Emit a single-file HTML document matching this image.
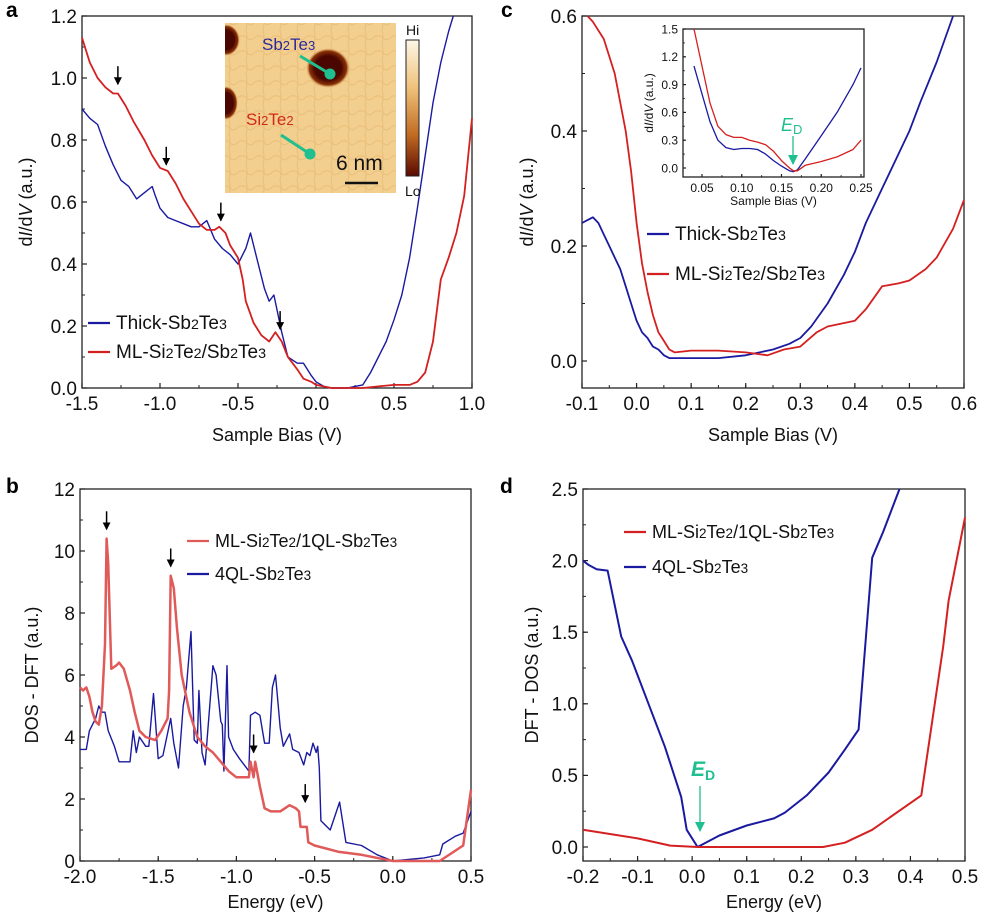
<!DOCTYPE html>
<html><head><meta charset="utf-8">
<style>
html,body{margin:0;padding:0;background:#fff;}
svg{display:block;font-family:"Liberation Sans",sans-serif;}
</style></head>
<body>
<svg id="fig" width="993" height="916" viewBox="0 0 993 916" xmlns="http://www.w3.org/2000/svg">
<defs>
<linearGradient id="cbar" x1="0" y1="0" x2="0" y2="1">
<stop offset="0" stop-color="#fdf6e6"/><stop offset="0.35" stop-color="#f0c27a"/><stop offset="0.7" stop-color="#c06a22"/><stop offset="1" stop-color="#5a0a00"/>
</linearGradient>
<radialGradient id="blob"><stop offset="0.6" stop-color="#4a0600"/><stop offset="0.85" stop-color="#8a3208"/><stop offset="1" stop-color="#e9b96a" stop-opacity="0"/></radialGradient>
<pattern id="grain" width="17" height="15" patternUnits="userSpaceOnUse">
<rect width="17" height="15" fill="#f5d498"/><path d="M0 7 Q5 4 9 8 T17 7 M8 0 Q10 7 8 15" stroke="#e0ae66" stroke-width="1.2" fill="none" opacity="0.55"/>
</pattern>
<clipPath id="imgclip"><rect x="225" y="23" width="171" height="170"/></clipPath>
<marker id="ah" markerWidth="8" markerHeight="8" refX="4" refY="7" orient="0" markerUnits="userSpaceOnUse"><path d="M0,0 L8,0 L4,8 z" fill="#000"/></marker>
<marker id="ahg" markerWidth="10" markerHeight="10" refX="5" refY="9" orient="0" markerUnits="userSpaceOnUse"><path d="M0,0 L10,0 L5,10 z" fill="#1fbf8f"/></marker>
</defs>
<g id="layer"></g>

<!-- inset image panel a -->
<g>
<g clip-path="url(#imgclip)">
<rect x="225" y="23" width="171" height="170" fill="url(#grain)"/>
<rect x="225" y="23" width="171" height="170" fill="#f0c47c" opacity="0.3"/>
<ellipse cx="328" cy="68" rx="22" ry="20" fill="url(#blob)"/>
<ellipse cx="226" cy="40" rx="14" ry="16" fill="url(#blob)"/>
<ellipse cx="226" cy="103" rx="12" ry="17" fill="url(#blob)"/>
</g>
<line x1="300" y1="56" x2="330" y2="74" stroke="#1fbf8f" stroke-width="3"/>
<circle cx="330" cy="74" r="5.5" fill="#1fbf8f"/>
<line x1="281" y1="135" x2="310" y2="154" stroke="#1fbf8f" stroke-width="3"/>
<circle cx="310" cy="154" r="5.5" fill="#1fbf8f"/>
<text x="262" y="50" font-size="17" fill="#2a2a9a">Sb<tspan font-size="13">2</tspan>Te<tspan font-size="13">3</tspan></text>
<text x="246" y="125" font-size="17" fill="#d02a1a">Si<tspan font-size="13">2</tspan>Te<tspan font-size="13">2</tspan></text>
<text x="336" y="170" font-size="21" fill="#111">6 nm</text>
<line x1="345" y1="183" x2="378" y2="183" stroke="#111" stroke-width="2.5"/>
<rect x="406" y="40" width="13" height="136" fill="url(#cbar)" stroke="#222" stroke-width="1"/>
<text x="406" y="35" font-size="14" fill="#111">Hi</text>
<text x="405" y="196" font-size="14" fill="#111">Lo</text>
</g>
</svg>
<script>
// ---------- data ----------
const aBlueX=[-1.5,-1.45,-1.4,-1.35,-1.3,-1.25,-1.2,-1.15,-1.1,-1.05,-1.03,-1.0,-0.95,-0.9,-0.85,-0.8,-0.75,-0.7,-0.65,-0.6,-0.55,-0.5,-0.45,-0.42,-0.38,-0.33,-0.3,-0.27,-0.22,-0.18,-0.12,-0.08,-0.03,0.0,0.05,0.1,0.2,0.25,0.3,0.35,0.4,0.45,0.5,0.55,0.6,0.65,0.7,0.75,0.8,0.85,0.88];
const aBlueY=[0.90,0.87,0.85,0.78,0.72,0.67,0.65,0.61,0.63,0.65,0.62,0.58,0.55,0.54,0.53,0.52,0.52,0.54,0.48,0.45,0.43,0.40,0.45,0.50,0.42,0.32,0.28,0.30,0.18,0.10,0.08,0.08,0.04,0.02,0.005,0.0,0.0,0.005,0.01,0.05,0.1,0.15,0.22,0.30,0.42,0.58,0.75,0.92,1.05,1.15,1.2];
const aRedX=[-1.5,-1.45,-1.4,-1.35,-1.3,-1.27,-1.22,-1.17,-1.1,-1.05,-1.0,-0.95,-0.9,-0.85,-0.8,-0.75,-0.7,-0.65,-0.62,-0.58,-0.55,-0.5,-0.47,-0.45,-0.4,-0.35,-0.3,-0.26,-0.22,-0.18,-0.12,-0.08,-0.03,0.0,0.1,0.3,0.4,0.5,0.6,0.65,0.7,0.75,0.8,0.85,0.9,0.95,1.0];
const aRedY=[1.13,1.05,1.0,0.97,0.95,0.95,0.91,0.86,0.80,0.75,0.71,0.70,0.66,0.61,0.57,0.53,0.51,0.51,0.52,0.50,0.46,0.42,0.35,0.28,0.21,0.17,0.15,0.18,0.15,0.10,0.06,0.03,0.02,0.01,0.0,0.0,0.005,0.01,0.01,0.02,0.05,0.15,0.35,0.42,0.5,0.62,0.87];
const aArrowX=[-1.27,-0.96,-0.61,-0.23];
const aArrowY=[0.98,0.72,0.54,0.19];

const cBlueX=[-0.1,-0.09,-0.08,-0.07,-0.06,-0.05,-0.04,-0.03,-0.02,-0.01,0.0,0.01,0.02,0.03,0.04,0.05,0.06,0.1,0.15,0.2,0.25,0.28,0.3,0.32,0.35,0.38,0.4,0.42,0.45,0.48,0.5,0.52,0.55,0.58];
const cBlueY=[0.24,0.245,0.25,0.24,0.22,0.20,0.18,0.16,0.13,0.10,0.07,0.05,0.04,0.025,0.02,0.01,0.005,0.005,0.005,0.01,0.02,0.03,0.04,0.06,0.10,0.15,0.19,0.24,0.30,0.36,0.40,0.45,0.52,0.6];
const cRedX=[-0.09,-0.08,-0.06,-0.04,-0.02,-0.01,0.0,0.01,0.02,0.03,0.04,0.05,0.06,0.07,0.1,0.15,0.2,0.24,0.27,0.3,0.33,0.35,0.4,0.42,0.45,0.48,0.5,0.53,0.55,0.58,0.6];
const cRedY=[0.6,0.59,0.56,0.50,0.40,0.33,0.24,0.17,0.12,0.08,0.05,0.035,0.02,0.015,0.018,0.018,0.015,0.01,0.02,0.025,0.05,0.06,0.07,0.09,0.13,0.135,0.14,0.16,0.18,0.23,0.28];
const ciBlueX=[0.04,0.05,0.06,0.07,0.08,0.09,0.1,0.11,0.12,0.13,0.14,0.15,0.16,0.165,0.17,0.18,0.2,0.22,0.24,0.25];
const ciBlueY=[1.1,0.8,0.5,0.3,0.22,0.2,0.21,0.21,0.2,0.15,0.08,0.02,-0.03,-0.04,-0.02,0.1,0.35,0.6,0.9,1.08];
const ciRedX=[0.04,0.05,0.06,0.07,0.08,0.09,0.1,0.11,0.12,0.13,0.14,0.15,0.16,0.165,0.17,0.18,0.2,0.22,0.24,0.25];
const ciRedY=[1.5,1.1,0.7,0.45,0.36,0.33,0.33,0.3,0.28,0.25,0.18,0.08,0.0,-0.03,-0.03,0.03,0.07,0.12,0.2,0.3];

const bRedX=[-2.0,-1.98,-1.96,-1.94,-1.92,-1.9,-1.88,-1.86,-1.84,-1.83,-1.82,-1.8,-1.77,-1.75,-1.72,-1.68,-1.65,-1.62,-1.58,-1.52,-1.48,-1.44,-1.43,-1.42,-1.4,-1.38,-1.35,-1.3,-1.25,-1.2,-1.15,-1.1,-1.05,-1.0,-0.92,-0.91,-0.89,-0.88,-0.85,-0.82,-0.78,-0.72,-0.66,-0.62,-0.6,-0.59,-0.55,-0.54,-0.5,-0.35,-0.2,0.0,0.3,0.45,0.5];
const bRedY=[5.6,5.5,5.6,5.3,4.8,4.5,4.4,5.0,7.0,10.4,9.6,6.2,6.3,6.4,6.2,5.5,4.8,4.2,4.0,3.9,4.2,4.6,5.5,9.2,8.8,7.5,6.0,4.8,4.0,3.7,3.5,3.2,2.9,2.7,2.7,3.2,2.7,3.2,2.4,1.7,1.6,1.6,1.8,1.7,1.6,1.1,1.1,0.6,0.5,0.3,0.2,0.0,0.0,0.5,2.3];
const bBlueX=[-2.0,-1.96,-1.94,-1.9,-1.88,-1.86,-1.84,-1.82,-1.78,-1.75,-1.68,-1.66,-1.64,-1.62,-1.58,-1.56,-1.53,-1.5,-1.47,-1.42,-1.4,-1.37,-1.34,-1.32,-1.29,-1.27,-1.25,-1.24,-1.22,-1.2,-1.15,-1.13,-1.1,-1.09,-1.08,-1.06,-1.05,-1.02,-0.98,-0.92,-0.91,-0.88,-0.85,-0.82,-0.79,-0.77,-0.75,-0.72,-0.7,-0.66,-0.64,-0.6,-0.57,-0.55,-0.53,-0.51,-0.49,-0.48,-0.47,-0.46,-0.4,-0.34,-0.3,-0.2,-0.1,0.0,0.1,0.2,0.3,0.32,0.4,0.45,0.5];
const bBlueY=[3.6,3.6,4.2,4.6,5.0,4.8,4.8,4.2,3.7,3.2,3.2,4.2,3.5,4.0,3.7,3.7,5.4,3.3,3.4,4.6,3.8,3.0,5.0,5.6,7.4,3.9,3.8,5.5,3.5,3.1,6.3,6.0,4.5,4.4,2.9,6.3,4.0,3.6,3.3,2.9,4.7,4.8,4.7,3.8,3.8,5.6,6.0,4.3,3.7,4.1,3.6,3.5,3.1,3.5,3.4,3.8,3.5,3.7,3.0,1.3,1.0,1.9,0.6,0.5,0.2,0.0,0.05,0.1,0.2,0.55,0.8,0.9,1.6];
const bArrowX=[-1.83,-1.42,-0.89,-0.56];
const bArrowY=[10.7,9.5,3.5,1.9];

const dBlueX=[-0.2,-0.19,-0.175,-0.155,-0.13,-0.11,-0.08,-0.05,-0.02,-0.01,0.01,0.05,0.1,0.15,0.17,0.21,0.25,0.28,0.305,0.33,0.35,0.38];
const dBlueY=[2.0,1.97,1.94,1.93,1.47,1.3,1.0,0.7,0.35,0.12,0.0,0.08,0.15,0.2,0.24,0.36,0.52,0.68,0.82,2.02,2.2,2.5];
const dRedX=[-0.2,-0.1,-0.04,0.01,0.24,0.28,0.33,0.42,0.46,0.47,0.5];
const dRedY=[0.12,0.06,0.01,0.0,0.0,0.03,0.12,0.36,1.4,1.72,2.3];

const aXTicks=[-1.5,-1.0,-0.5,0.0,0.5,1.0], aYTicks=[0.0,0.2,0.4,0.6,0.8,1.0,1.2];
const cXTicks=[-0.1,0.0,0.1,0.2,0.3,0.4,0.5,0.6], cYTicks=[0.0,0.2,0.4,0.6];
const ciXTicks=[0.05,0.10,0.15,0.20,0.25], ciYTicks=[0.0,0.3,0.6,0.9,1.2,1.5];
const bXTicks=[-2.0,-1.5,-1.0,-0.5,0.0,0.5], bYTicks=[0,2,4,6,8,10,12];
const dXTicks=[-0.2,-0.1,0.0,0.1,0.2,0.3,0.4,0.5], dYTicks=[0.0,0.5,1.0,1.5,2.0,2.5];

// ---------- drawing ----------
const NS='http://www.w3.org/2000/svg';
const root=document.getElementById('layer');
function mk(tag,attrs,parent){const e=document.createElementNS(NS,tag);for(const k in attrs)e.setAttribute(k,attrs[k]);(parent||root).appendChild(e);return e;}
function scale(d0,d1,p0,p1){return v=>p0+(v-d0)*(p1-p0)/(d1-d0);}

function axes(o){
  const g=mk('g',{});
  
  
  const fs=o.fs||19;
  for(let v=o.xmin;v<=o.xmax+1e-9;v+=o.xminor){const x=o.sx(v);mk('line',{x1:x,x2:x,y1:o.y1,y2:o.y1-(o.tl||5)*0.6,stroke:'#222','stroke-width':1},g);}
  for(let v=o.ymin0;v<=o.ymax+1e-9;v+=o.yminor){const y=o.sy(v);if(y>o.y1+0.5||y<o.y0-0.5)continue;mk('line',{x1:o.x0,x2:o.x0+(o.tl||5)*0.6,y1:y,y2:y,stroke:'#222','stroke-width':1},g);}
  o.xt.forEach(v=>{const x=o.sx(v);mk('line',{x1:x,x2:x,y1:o.y1,y2:o.y1-(o.tl||5),stroke:'#222','stroke-width':1.2},g);
    const t=mk('text',{x:x,y:o.y1+fs+3,'font-size':fs,'text-anchor':'middle',fill:'#111'},g);t.textContent=v.toFixed(o.xd);
    
    });
  o.yt.forEach(v=>{const y=o.sy(v);mk('line',{x1:o.x0,x2:o.x0+(o.tl||5),y1:y,y2:y,stroke:'#222','stroke-width':1.2},g);
    const t=mk('text',{x:o.x0-5,y:y+fs*0.36,'font-size':fs,'text-anchor':'end',fill:'#111'},g);t.textContent=v.toFixed(o.yd);
    
    });
  const r=mk('rect',{x:o.x0,y:o.y0,width:o.x1-o.x0,height:o.y1-o.y0,fill:'none',stroke:'#222','stroke-width':1.3},g);
  
  
  if(o.xtitle){const t=mk('text',{x:(o.x0+o.x1)/2,y:o.xty,'font-size':o.tfs||18,'text-anchor':'middle',fill:'#111'},g);t.textContent=o.xtitle;
    
    }
  if(o.ytitle){const t=mk('text',{x:0,y:0,'font-size':o.tfs||18,'text-anchor':'middle',fill:'#111',transform:`translate(${o.ytx},${(o.y0+o.y1)/2}) rotate(-90)`},g);t.innerHTML=o.ytitle;
    
    }
}
function series(xs,ys,sx,sy,color,w,name){
  const d=xs.map((x,i)=>(i?'L':'M')+sx(x).toFixed(1)+','+sy(ys[i]).toFixed(1)).join('');
  const p=mk('path',{d:d,fill:'none',stroke:color,'stroke-width':w,'stroke-linejoin':'round'});
  
  
}
function clip(id,x,y,w,h){const c=mk('clipPath',{id:id});mk('rect',{x:x,y:y,width:w,height:h},c);}
function arrows(xs,ys,sx,sy,name){xs.forEach((x,i)=>{const px=sx(x),py=sy(ys[i]);
  const l=mk('line',{x1:px,y1:py-18,x2:px,y2:py,stroke:'#000','stroke-width':1.5,'marker-end':'url(#ah)'});
  
  });}
function legend(x,y,dy,items,fs){items.forEach((it,i)=>{const yy=y+i*dy;
  const l=mk('line',{x1:x,x2:x+22,y1:yy,y2:yy,stroke:it.c,'stroke-width':2.2});
  
  
  const t=mk('text',{x:x+28,y:yy+6,'font-size':fs,fill:'#111'});t.innerHTML=it.t;
  
  });}
function label(txt,x,y){const t=mk('text',{x:x,y:y,'font-size':21,'font-weight':'bold',fill:'#000'});t.textContent=txt;
  
  }
const sub=s=>`<tspan font-size="0.75em">${s}</tspan>`;
const BLUE='#1a1aa0', RED='#d42020', LRED='#e05a5a', GREEN='#1fbf8f';

// panel a
{const sx=scale(-1.5,1.0,82,472), sy=scale(0,1.2,388,16);
 clip('ca',82,16,390,372);
 axes({name:'panel-a',x0:82,x1:472,y0:16,y1:388,sx,sy,xmin:-1.5,xmax:1.0,xminor:0.25,ymin0:0,ymax:1.2,yminor:0.1,xt:aXTicks,yt:aYTicks,xd:1,yd:1,xtitle:'Sample Bias (V)',xty:441,ytitle:'d<tspan font-style="italic">I</tspan>/d<tspan font-style="italic">V</tspan> (a.u.)',ytx:32});
 series(aBlueX,aBlueY,sx,sy,BLUE,1.4,'thick-sb2te3-line');
 series(aRedX,aRedY,sx,sy,RED,1.8,'ml-si2te2-line');
 arrows(aArrowX,aArrowY,sx,sy,'peak-arrow');
 legend(88,323,29,[{c:BLUE,t:'Thick-Sb'+sub(2)+'Te'+sub(3)},{c:RED,t:'ML-Si'+sub(2)+'Te'+sub(2)+'/Sb'+sub(2)+'Te'+sub(3)}],19);
 label('a',6,17);}
// panel c
{const sx=scale(-0.1,0.6,582,964), sy=scale(0,0.6,361,16);
 clip('cc',582,16,382,372);
 axes({name:'panel-c',x0:582,x1:964,y0:16,y1:388,sx,sy,xmin:-0.1,xmax:0.6,xminor:0.05,ymin0:-0.0,ymax:0.6,yminor:0.1,xt:cXTicks,yt:cYTicks,xd:1,yd:1,xtitle:'Sample Bias (V)',xty:441,ytitle:'d<tspan font-style="italic">I</tspan>/d<tspan font-style="italic">V</tspan> (a.u.)',ytx:533});
 series(cBlueX,cBlueY,sx,sy,BLUE,1.8,'thick-sb2te3-line');
 series(cRedX,cRedY,sx,sy,RED,1.8,'ml-si2te2-line');
 legend(647,234,40,[{c:BLUE,t:'Thick-Sb'+sub(2)+'Te'+sub(3)},{c:RED,t:'ML-Si'+sub(2)+'Te'+sub(2)+'/Sb'+sub(2)+'Te'+sub(3)}],19);
 const ix=scale(0.05,0.25,702,861), iy=scale(0,1.5,168,29);
 mk('rect',{x:683,y:29,width:181,height:148,fill:'#fff'});
 axes({name:'panel-c-inset',x0:683,x1:864,y0:29,y1:177,sx:ix,sy:iy,xmin:0.05,xmax:0.25,xminor:0.025,ymin0:0,ymax:1.5,yminor:0.15,xt:ciXTicks,yt:ciYTicks,xd:2,yd:1,fs:12,tl:3,xtitle:'Sample Bias (V)',xty:205,tfs:12,ytitle:'d<tspan font-style="italic">I</tspan>/d<tspan font-style="italic">V</tspan> (a.u.)',ytx:653});
 series(ciBlueX,ciBlueY,ix,iy,BLUE,1.3,'inset-thick-sb2te3-line');
 series(ciRedX,ciRedY,ix,iy,RED,1.3,'inset-ml-si2te2-line');
 const t=mk('text',{x:781,y:131,'font-size':18,fill:GREEN});t.innerHTML='<tspan font-style="italic">E</tspan><tspan font-size="13" dy="3">D</tspan>';
 
 
 const l=mk('line',{x1:793,y1:136,x2:793,y2:164,stroke:GREEN,'stroke-width':1.3,'marker-end':'url(#ahg)'});
 
 
 label('c',501,17);}
// panel b
{const sx=scale(-2,0.5,80,471), sy=scale(0,12,861,489);
 axes({name:'panel-b',x0:80,x1:471,y0:489,y1:861,sx,sy,xmin:-2,xmax:0.5,xminor:0.25,ymin0:0,ymax:12,yminor:1,xt:bXTicks,yt:bYTicks,xd:1,yd:0,xtitle:'Energy (eV)',xty:908,ytitle:'DOS - DFT (a.u.)',ytx:38});
 series(bBlueX,bBlueY,sx,sy,BLUE,1.4,'4ql-sb2te3-line');
 series(bRedX,bRedY,sx,sy,LRED,2.5,'ml-si2te2-1ql-line');
 arrows(bArrowX,bArrowY,sx,sy,'peak-arrow');
 legend(187,541,33,[{c:LRED,t:'ML-Si'+sub(2)+'Te'+sub(2)+'/1QL-Sb'+sub(2)+'Te'+sub(3)},{c:BLUE,t:'4QL-Sb'+sub(2)+'Te'+sub(3)}],18);
 label('b',6,493);}
// panel d
{const sx=scale(-0.2,0.5,583,965), sy=scale(0,2.5,847,489);
 clip('cd',583,489,382,372);
 axes({name:'panel-d',x0:583,x1:965,y0:489,y1:861,sx,sy,xmin:-0.2,xmax:0.5,xminor:0.05,ymin0:0,ymax:2.5,yminor:0.25,xt:dXTicks,yt:dYTicks,xd:1,yd:1,xtitle:'Energy (eV)',xty:908,ytitle:'DFT - DOS (a.u.)',ytx:538});
 series(dBlueX,dBlueY,sx,sy,BLUE,2,'4ql-sb2te3-line');
 series(dRedX,dRedY,sx,sy,RED,2,'ml-si2te2-1ql-line');
 legend(624,532,35,[{c:RED,t:'ML-Si'+sub(2)+'Te'+sub(2)+'/1QL-Sb'+sub(2)+'Te'+sub(3)},{c:BLUE,t:'4QL-Sb'+sub(2)+'Te'+sub(3)}],18);
 const t=mk('text',{x:691,y:776,'font-size':21,'font-weight':'bold',fill:GREEN});t.innerHTML='<tspan font-style="italic">E</tspan><tspan font-size="14" dy="4">D</tspan>';
 
 
 const l=mk('line',{x1:700,y1:786,x2:700,y2:831,stroke:GREEN,'stroke-width':1.3,'marker-end':'url(#ahg)'});
 
 
 label('d',500,493);}
</script>
</body></html>
